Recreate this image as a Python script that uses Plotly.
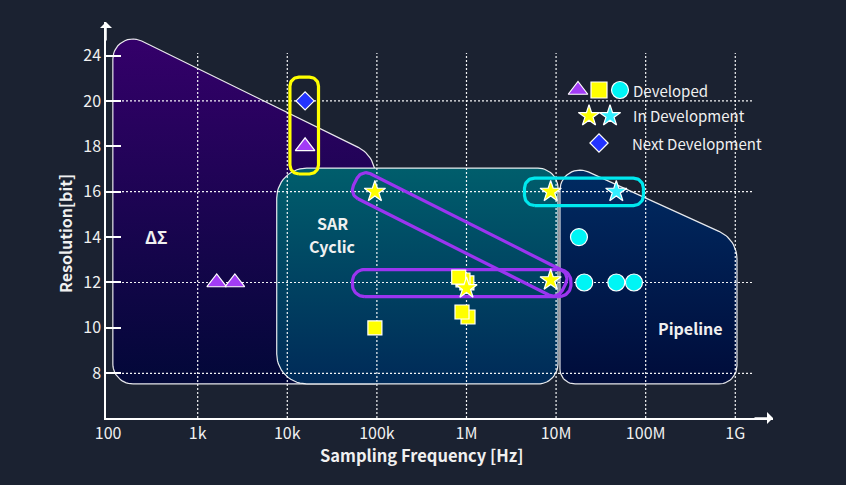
import math
import plotly.graph_objects as go

# ---------------- data ----------------
X_TICK_VALS = [1e2, 1e3, 1e4, 1e5, 1e6, 1e7, 1e8, 1e9]
X_TICK_TEXT = ["100", "1k", "10k", "100k", "1M", "10M", "100M", "1G"]
Y_TICK_VALS = [8, 10, 12, 14, 16, 18, 20, 22]
Y_TICK_TEXT = ["8", "10", "12", "14", "16", "18", "20", "24"]
GRID_Y = [8, 12, 16, 20]
GRID_X = [1e3, 1e4, 1e5, 1e6, 1e7, 1e8, 1e9]

# Developed
tri_x = [1630, 2600, 15800]
tri_y = [12, 12, 18]
sq_x = [1.01e6, 0.914e6, 0.819e6, 1.04e6, 0.891e6, 95000]
sq_y = [11.98, 12.11, 12.24, 10.48, 10.70, 10]
circ_x = [18e6, 20.6e6, 47e6, 74e6]
circ_y = [14, 12, 12, 12]
# In development
star_yel_x = [95e3, 1.0e6, 8.7e6, 8.7e6]
star_yel_y = [16, 11.75, 12.1, 16]
star_cyan_x = [47e6]
star_cyan_y = [16]
# Next development
dia_x = [15800]
dia_y = [20]

# Architecture regions (Hz, bit) with corner radii in px
DS_VERTS = [(113, 7.53), (113, 23.26), (95300, 17.59), (95300, 7.53)]
DS_RADII = [20, 20, 30, 0]
SAR_VERTS = [(7620, 7.53), (7620, 17.04), (10.5e6, 17.04), (10.5e6, 7.53)]
SAR_RADII = [30, 30, 20, 20]
PIPE_VERTS = [(11.05e6, 7.53), (11.05e6, 17.44), (1.045e9, 13.89), (1.045e9, 7.53)]
PIPE_RADII = [15, 20, 30, 18]

# Highlight boxes (Hz range, bit range)
YELLOW_BOX = ((10.7e3, 22.3e3), (16.78, 21.05))
PURPLE_BOX = ((53.3e3, 14.66e6), (11.38, 12.57))
CYAN_BOX = ((4.44e6, 94.4e6), (15.39, 16.60))
DIAG_ENDS = ((95e3, 16), (8.7e6, 12.1))

# ---------------- layout geometry ----------------
FIG_W, FIG_H = 846, 485
L, T, W, H = 106, 22, 667, 396
X_RANGE = [1.9766, 9.421]
Y_RANGE = [6.03, 23.476]
SX = W / (X_RANGE[1] - X_RANGE[0])
SY = H / (Y_RANGE[1] - Y_RANGE[0])
BG = "#1b2231"
FONT = "Noto Sans CJK JP"


def to_px(x, y):
    return (L + (math.log10(x) - X_RANGE[0]) * SX, T + (Y_RANGE[1] - y) * SY)


def from_px(px, py):
    return (10 ** (X_RANGE[0] + (px - L) / SX), Y_RANGE[1] - (py - T) / SY)


def paper(px, py):
    return ((px - L) / W, (T + H - py) / H)


def rounded_poly(pts, radii, n=14):
    out = []
    m = len(pts)
    for i in range(m):
        P = pts[i]
        r = radii[i]
        if r <= 0:
            out.append(P)
            continue
        A = pts[i - 1]
        C = pts[(i + 1) % m]
        u1 = (A[0] - P[0], A[1] - P[1])
        u2 = (C[0] - P[0], C[1] - P[1])
        l1 = math.hypot(*u1)
        l2 = math.hypot(*u2)
        u1 = (u1[0] / l1, u1[1] / l1)
        u2 = (u2[0] / l2, u2[1] / l2)
        th = math.acos(max(-1, min(1, u1[0] * u2[0] + u1[1] * u2[1])))
        t = r / math.tan(th / 2)
        T1 = (P[0] + u1[0] * t, P[1] + u1[1] * t)
        T2 = (P[0] + u2[0] * t, P[1] + u2[1] * t)
        b = (u1[0] + u2[0], u1[1] + u2[1])
        lb = math.hypot(*b)
        b = (b[0] / lb, b[1] / lb)
        d = r / math.sin(th / 2)
        Cc = (P[0] + b[0] * d, P[1] + b[1] * d)
        a1 = math.atan2(T1[1] - Cc[1], T1[0] - Cc[0])
        a2 = math.atan2(T2[1] - Cc[1], T2[0] - Cc[0])
        da = a2 - a1
        while da > math.pi:
            da -= 2 * math.pi
        while da < -math.pi:
            da += 2 * math.pi
        for k in range(n + 1):
            a = a1 + da * k / n
            out.append((Cc[0] + r * math.cos(a), Cc[1] + r * math.sin(a)))
    out.append(out[0])
    return out


def poly_data(verts, radii):
    pts = [to_px(x, y) for x, y in verts]
    rp = rounded_poly(pts, radii)
    xs, ys = zip(*[from_px(px, py) for px, py in rp])
    return list(xs), list(ys)


def box_data(box, r):
    (x0, x1), (y0, y1) = box
    verts = [(x0, y0), (x0, y1), (x1, y1), (x1, y0)]
    return poly_data(verts, [r] * 4)


def capsule_data(ends, ext0, ext1, half, r):
    p0 = to_px(*ends[0])
    p1 = to_px(*ends[1])
    dx, dy = p1[0] - p0[0], p1[1] - p0[1]
    ln = math.hypot(dx, dy)
    d = (dx / ln, dy / ln)
    nrm = (-d[1], d[0])
    a0 = (p0[0] - d[0] * ext0, p0[1] - d[1] * ext0)
    a1 = (p1[0] + d[0] * ext1, p1[1] + d[1] * ext1)
    pts = [
        (a0[0] + nrm[0] * half, a0[1] + nrm[1] * half),
        (a0[0] - nrm[0] * half, a0[1] - nrm[1] * half),
        (a1[0] - nrm[0] * half, a1[1] - nrm[1] * half),
        (a1[0] + nrm[0] * half, a1[1] + nrm[1] * half),
    ]
    rp = rounded_poly(pts, [r] * 4)
    xs, ys = zip(*[from_px(px, py) for px, py in rp])
    return list(xs), list(ys)


fig = go.Figure()


def add_region(verts, radii, c_bottom, c_top, line_col="rgba(255,255,255,0.9)"):
    xs, ys = poly_data(verts, radii)
    fig.add_trace(go.Scatter(
        x=xs, y=ys, mode="lines", fill="toself",
        fillgradient=dict(type="vertical", start=min(ys), stop=max(ys),
                          colorscale=[[0, c_bottom], [1, c_top]]),
        line=dict(color=line_col, width=1.2), hoverinfo="skip"))


add_region(DS_VERTS, DS_RADII, "#020838", "#34006a")
add_region(SAR_VERTS, SAR_RADII, "#002a58", "#005e6c")
add_region(PIPE_VERTS, PIPE_RADII, "#000c3a", "#002b62")

# dotted grid lines drawn over the regions
gx, gy = [], []
x_left = 10 ** X_RANGE[0]
x_right = from_px(753, 0)[0]
for yv in GRID_Y:
    gx += [x_left, x_right, None]
    gy += [yv, yv, None]
y_top = from_px(0, 53)[1]
for xv in GRID_X:
    gx += [xv, xv, None]
    gy += [Y_RANGE[0], y_top, None]
fig.add_trace(go.Scatter(x=gx, y=gy, mode="lines",
                         line=dict(color="rgba(255,255,255,0.95)", width=1.2, dash="2px,2px"),
                         hoverinfo="skip"))

# highlight boxes
for box, col, r in [(YELLOW_BOX, "#ffff00", 9), (PURPLE_BOX, "#9b35f0", 12), (CYAN_BOX, "#00e8ee", 10)]:
    xs, ys = box_data(box, r)
    fig.add_trace(go.Scatter(x=xs, y=ys, mode="lines", line=dict(color=col, width=3.2),
                             hoverinfo="skip"))
xs, ys = capsule_data(DIAG_ENDS, 22, 15, 14, 10)
fig.add_trace(go.Scatter(x=xs, y=ys, mode="lines", line=dict(color="#9b35f0", width=3.2),
                         hoverinfo="skip"))

# markers
WL = dict(color="white", width=1.2)
fig.add_trace(go.Scatter(x=tri_x, y=tri_y, mode="markers",
                         marker=dict(symbol="triangle-up", size=17, color="#a23cf5", line=WL)))
fig.add_trace(go.Scatter(x=sq_x, y=sq_y, mode="markers",
                         marker=dict(symbol="square", size=14, color="#ffff00", line=WL)))
fig.add_trace(go.Scatter(x=circ_x, y=circ_y, mode="markers",
                         marker=dict(symbol="circle", size=17, color="#00f5f5", line=WL)))
fig.add_trace(go.Scatter(x=star_yel_x, y=star_yel_y, mode="markers",
                         marker=dict(symbol="star", size=16, color="#ffff00", line=WL)))
fig.add_trace(go.Scatter(x=star_cyan_x, y=star_cyan_y, mode="markers",
                         marker=dict(symbol="star", size=16, color="#33eeff", line=WL)))
fig.add_trace(go.Scatter(x=dia_x, y=dia_y, mode="markers",
                         marker=dict(symbol="diamond", size=14, color="#2233ff", line=WL)))

# custom legend
LEGEND_MARKERS = [
    ("triangle-up", "#a23cf5", 17, 578, 90),
    ("square", "#ffff00", 16, 599, 90),
    ("circle", "#00f5f5", 17, 620, 90),
    ("star", "#ffff00", 16, 589, 116),
    ("star", "#33eeff", 16, 610, 116),
    ("diamond", "#2233ff", 14, 599, 143),
]
for sym, col, sz, px, py in LEGEND_MARKERS:
    lx, ly = from_px(px, py)
    fig.add_trace(go.Scatter(x=[lx], y=[ly], mode="markers", cliponaxis=False,
                             marker=dict(symbol=sym, size=sz, color=col, line=WL)))

LEGEND_TEXT = [("Developed", 631, 90), ("In Development", 631, 116), ("Next Development", 630, 143)]
annotations = []
for txt, px, py in LEGEND_TEXT:
    xp, yp = paper(px, py)
    annotations.append(dict(x=xp, y=yp, xref="paper", yref="paper", text=txt, showarrow=False,
                            xanchor="left", yanchor="middle",
                            font=dict(family=FONT, size=15, color="#f0f0f0")))

LABELS = [("<b>ΔΣ</b>", 156, 236, 17), ("<b>SAR</b>", 332, 223, 16), ("<b>Cyclic</b>", 332, 246, 16),
          ("<b>Pipeline</b>", 690, 328, 16)]
for txt, px, py, sz in LABELS:
    xp, yp = paper(px, py)
    annotations.append(dict(x=xp, y=yp, xref="paper", yref="paper", text=txt, showarrow=False,
                            xanchor="center", yanchor="middle", align="center", borderpad=0,
                            font=dict(family=FONT, size=sz, color="#f0f0f0")))

# axis titles
xp, yp = paper(421, 455)
annotations.append(dict(x=xp, y=yp, xref="paper", yref="paper", text="<b>Sampling Frequency [Hz]</b>",
                        showarrow=False, xanchor="center", yanchor="middle",
                        font=dict(family=FONT, size=16.5, color="#f0f0f0")))
xp, yp = paper(65, 234)
annotations.append(dict(x=xp, y=yp, xref="paper", yref="paper", text="<b>Resolution[bit]</b>",
                        showarrow=False, xanchor="center", yanchor="middle", textangle=-90,
                        font=dict(family=FONT, size=16, color="#f0f0f0")))

# axis arrowheads
annotations.append(dict(x=1.0, y=0, xref="paper", yref="paper", ax=-20, ay=0, text="",
                        showarrow=True, arrowhead=1, arrowsize=1.33, arrowwidth=1.5, arrowcolor="white"))
annotations.append(dict(x=0, y=1.0, xref="paper", yref="paper", ax=0, ay=20, text="",
                        showarrow=True, arrowhead=1, arrowsize=1.33, arrowwidth=1.5, arrowcolor="white"))

fig.update_layout(
    width=FIG_W, height=FIG_H,
    margin=dict(l=L, r=FIG_W - L - W, t=T, b=FIG_H - T - H),
    paper_bgcolor=BG, plot_bgcolor=BG,
    showlegend=False,
    annotations=annotations,
    font=dict(family=FONT, color="#f0f0f0"),
)
fig.update_xaxes(type="log", range=X_RANGE, tickvals=X_TICK_VALS, ticktext=X_TICK_TEXT,
                 showgrid=False, zeroline=False, showline=True, linecolor="white", linewidth=1.5,
                 ticks="", ticklabelstandoff=0,
                 tickfont=dict(family=FONT, size=16, color="#f0f0f0"))
fig.update_yaxes(range=Y_RANGE, tickvals=Y_TICK_VALS, ticktext=Y_TICK_TEXT,
                 showgrid=False, zeroline=False, showline=True, linecolor="white", linewidth=1.5,
                 ticks="inside", ticklen=15, tickwidth=1.5, tickcolor="white",
                 tickfont=dict(family=FONT, size=16, color="#f0f0f0"))

fig.write_html("out.html", config={"displayModeBar": False},
               post_script="document.body.style.margin='0';document.body.style.background='" + BG + "';")
